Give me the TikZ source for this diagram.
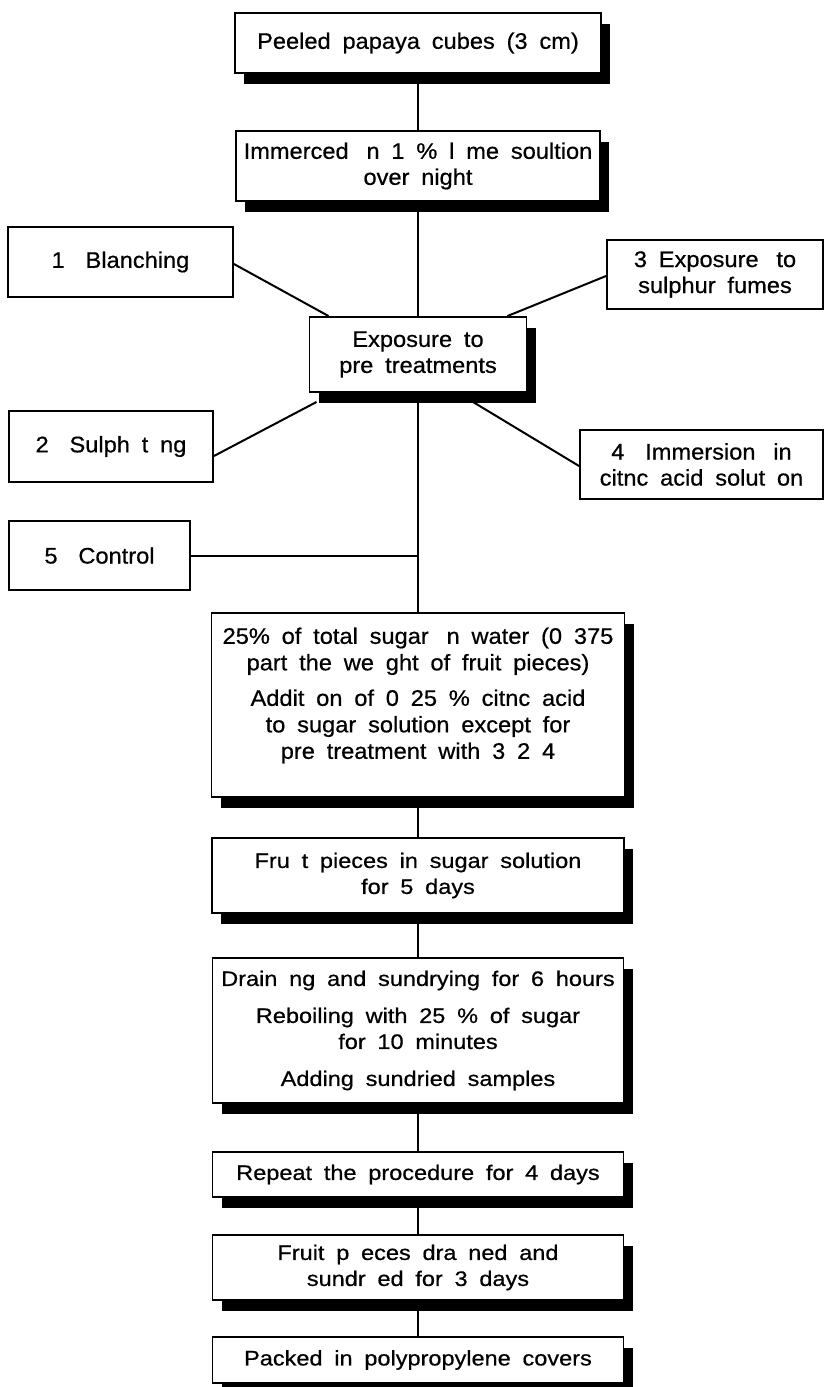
\documentclass[tikz,border=0pt]{standalone}
\usepackage{fontspec}
\setmainfont{Liberation Sans}
\newfontfamily\upf{Liberation Sans}[WordSpace=1.8,FakeStretch=1.05,FakeBold=0.6]
\newfontfamily\lowf{Liberation Sans}[WordSpace=1.8,FakeStretch=1.12,FakeBold=0.6]
\usetikzlibrary{shadows,calc}
\pgfdeclarelayer{bg}
\pgfsetlayers{bg,main}
\begin{document}
\begin{tikzpicture}[x=1pt,y=-1pt,
  box/.style={draw, line width=1.9pt, fill=white, inner sep=0pt, align=center,
    font=\upf\fontsize{22.5}{26}\selectfont},
  shbox/.style={box, drop shadow={shadow xshift=9pt, shadow yshift=-11pt, fill=black, opacity=1}},
  lowbox/.style={shbox, font=\lowf\fontsize{21}{26}\selectfont},
  link/.style={line width=2pt}]
\useasboundingbox (0,0) rectangle (825,1387);

% main column
\node[shbox, minimum width=366pt, minimum height=60pt] (peel) at (418,43) {Peeled papaya cubes (3 cm)};
\node[shbox, minimum width=364pt, minimum height=70pt] (imm) at (418,166) {Immerced\hspace{6pt} n 1 \% l me soultion\\over night};
\node[shbox, minimum width=217pt, minimum height=75pt] (expo) at (418,354.5) {Exposure to\\pre treatments};

% side boxes
\node[box, minimum width=225pt, minimum height=70pt] (blan) at (120.5,262) {1\hspace{9pt} Blanching};
\node[box, minimum width=216pt, minimum height=69pt] (expo3) at (715,274.5) {3 Exposure\hspace{6pt} to\\sulphur fumes};
\node[box, minimum width=204pt, minimum height=71pt] (sulph) at (111,446.5) {2\hspace{9pt} Sulph t ng};
\node[box, minimum width=243pt, minimum height=69pt] (imm4) at (701.5,464.5) {4\hspace{9pt} Immersion\hspace{6pt} in\\citnc acid solut on};
\node[box, minimum width=181pt, minimum height=69pt] (ctrl) at (99.5,555.5) {5\hspace{9pt} Control};

% big box
\node[shbox, minimum width=413pt, minimum height=184pt] (big) at (418,705) {};
\node[align=center, inner sep=0pt, font=\upf\fontsize{22.5}{26.5}\selectfont] (bigtext) at (418,695.5)
  {25\% of total sugar\hspace{6pt} n water (0 375\\part the we ght of fruit pieces)\\[9pt]
   Addit on of 0 25 \% citnc acid\\to sugar solution except for\\pre treatment with 3 2 4};

% lower column
\node[lowbox, minimum width=412pt, minimum height=75pt] (fruit) at (418,875.5) {Fru t pieces in sugar solution\\for 5 days};
\node[lowbox, minimum width=411pt, minimum height=145pt] (drain) at (418,1030.5)
  {Drain ng and sundrying for 6 hours\\[11pt]Reboiling with 25 \% of sugar\\for 10 minutes\\[11pt]Adding sundried samples};
\node[lowbox, minimum width=411pt, minimum height=45pt] (rep) at (418,1174.5) {Repeat the procedure for 4 days};
\node[lowbox, minimum width=411pt, minimum height=65pt] (dried) at (418,1267.5) {Fruit p eces dra ned and\\sundr ed for 3 days};
\node[lowbox, minimum width=411pt, minimum height=46pt] (pack) at (418,1360) {Packed in polypropylene covers};

\begin{pgfonlayer}{bg}
  \fill[white] (0,0) rectangle (825,1387);
  \draw[link] (peel) -- (imm);
  \draw[link] (imm) -- (expo);
  \draw[link] (expo) -- (big);
  \draw[link] (big) -- (fruit);
  \draw[link] (fruit) -- (drain);
  \draw[link] (drain) -- (rep);
  \draw[link] (rep) -- (dried);
  \draw[link] (dried) -- (pack);
  \draw[link] ($(blan.east)+(0,2)$) -- ($(expo.north west)+(20,0)$);
  \draw[link] ($(expo3.west)+(0,1.5)$) -- ($(expo.north east)+(-20,0)$);
  \draw[link] ($(sulph.east)+(0,9.5)$) -- ($(expo.south west)+(8,9)$);
  \draw[link] ($(imm4.west)+(0,1.5)$) -- ($(expo.south)+(55,9)$);
  \draw[link] (ctrl.east) -- (ctrl.east -| big.north);
\end{pgfonlayer}
\end{tikzpicture}
\end{document}
